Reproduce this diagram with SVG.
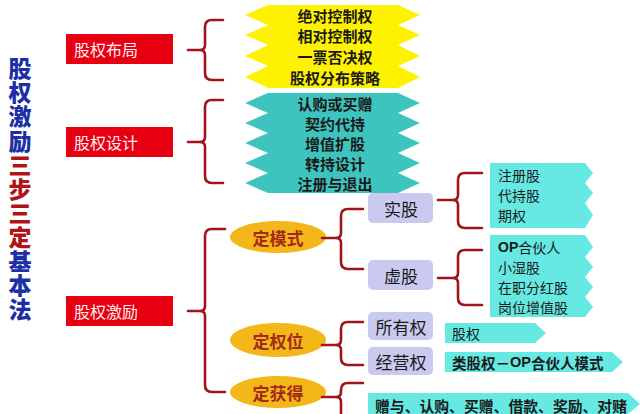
<svg xmlns="http://www.w3.org/2000/svg" width="640" height="414" viewBox="0 0 640 414">
<style>
.cjk{font-family:"Noto Sans CJK SC","Noto Sans",sans-serif}
.title{font-size:23px;font-weight:900}
.blue{fill:#1C2FA6}
.dred{fill:#B01318}
.redbox{fill:#E60012}
.redtxt{fill:#FFF0F0;font-size:16px;dominant-baseline:central}
.brace{fill:none;stroke:#A0141C;stroke-width:2.6;stroke-linecap:round;stroke-linejoin:round}
.yel{fill:#FFF200}
.teal{fill:#3EC4BE}
.lteal{fill:#66E9E3}
.rowtxt{font-size:15px;font-weight:700;fill:#1a1a1a;text-anchor:middle;dominant-baseline:central}
.ell{fill:#F3B71A}
.elltxt{font-size:17px;font-weight:700;fill:#A3291B;text-anchor:middle;dominant-baseline:central}
.lav{fill:#CACAF1}
.lavtxt{font-size:17px;fill:#1a1a1a;text-anchor:middle;dominant-baseline:central}
.listtxt{font-size:14px;fill:#1a1a1a;dominant-baseline:central}
.boldtxt{font-size:14.5px;font-weight:700;fill:#1a1a1a;dominant-baseline:central}
</style>
<rect width="640" height="414" fill="#FFFFFF"/>

<g id="title">
<text x="20" y="57" class="cjk title" writing-mode="vertical-rl" textLength="264" lengthAdjust="spacing"><tspan class="blue">股权激励</tspan><tspan class="dred">三步三定</tspan><tspan class="blue">基本法</tspan></text>
</g>

<g id="node-buju">
<rect x="66" y="34" width="107" height="30" class="redbox"/>
<text x="74" y="49" class="cjk redtxt">股权布局</text>
</g>
<g id="node-sheji">
<rect x="66" y="127" width="107" height="30" class="redbox"/>
<text x="74" y="142" class="cjk redtxt">股权设计</text>
</g>
<g id="node-jili">
<rect x="66" y="296" width="107" height="30" class="redbox"/>
<text x="74" y="311" class="cjk redtxt">股权激励</text>
</g>

<g id="node-buju-items">
<polygon class="yel" points="268,5 398,5 420,15 398,25 420,35 398,45 420,56 398,66 420,77 398,88 268,88 245,77 268,66 245,56 268,45 245,35 268,25 245,15"/>
<g class="cjk rowtxt">
<text x="335" y="15">绝对控制权</text>
<text x="335" y="35">相对控制权</text>
<text x="335" y="56">一票否决权</text>
<text x="335" y="77">股权分布策略</text>
</g>
</g>

<g id="node-sheji-items">
<polygon class="teal" points="268,93 398,93 420,103 398,113 420,123 398,133 420,143 398,153 420,163 398,173 420,183 398,193 268,193 245,183 268,173 245,163 268,153 245,143 268,133 245,123 268,113 245,103"/>
<g class="cjk rowtxt">
<text x="335" y="103">认购或买赠</text>
<text x="335" y="123">契约代持</text>
<text x="335" y="143">增值扩股</text>
<text x="335" y="163">转持设计</text>
<text x="335" y="183">注册与退出</text>
</g>
</g>

<g id="node-moshi">
<ellipse cx="278" cy="237" rx="48" ry="16" class="ell"/>
<text x="278" y="237" class="cjk elltxt">定模式</text>
</g>
<g id="node-quanwei">
<ellipse cx="278" cy="340" rx="48" ry="17" class="ell"/>
<text x="278" y="340" class="cjk elltxt">定权位</text>
</g>
<g id="node-huode">
<ellipse cx="278" cy="392" rx="48" ry="16" class="ell"/>
<text x="278" y="392" class="cjk elltxt">定获得</text>
</g>

<g id="node-shigu">
<rect x="368" y="193" width="65" height="30" rx="5" class="lav"/>
<text x="401" y="208" class="cjk lavtxt">实股</text>
</g>
<g id="node-xugu">
<rect x="368" y="260" width="65" height="30" rx="5" class="lav"/>
<text x="401" y="275" class="cjk lavtxt">虚股</text>
</g>
<g id="node-suoyou">
<rect x="368" y="312" width="65" height="28" rx="5" class="lav"/>
<text x="401" y="326" class="cjk lavtxt">所有权</text>
</g>
<g id="node-jingying">
<rect x="368" y="347" width="65" height="28" rx="5" class="lav"/>
<text x="401" y="361" class="cjk lavtxt">经营权</text>
</g>

<g id="node-shigu-items">
<polygon class="lteal" points="490,163 585,163 593,173 585,183 593,193 585,203 593,215 585,228 490,228"/>
<text x="498" y="175" class="cjk listtxt">注册股</text>
<text x="498" y="195" class="cjk listtxt">代持股</text>
<text x="498" y="215" class="cjk listtxt">期权</text>
</g>
<g id="node-xugu-items">
<polygon class="lteal" points="490,235 585,235 593,247 585,257 593,267 585,277 593,287 585,297 593,307 585,317 490,317"/>
<text x="498" y="247" class="cjk listtxt"><tspan font-family="'Liberation Sans',sans-serif" font-weight="700">OP</tspan>合伙人</text>
<text x="498" y="267" class="cjk listtxt">小湿股</text>
<text x="498" y="287" class="cjk listtxt">在职分红股</text>
<text x="498" y="307" class="cjk listtxt">岗位增值股</text>
</g>

<g id="node-guquan">
<polygon class="lteal" points="445,323 535,323 546,333 535,343 445,343"/>
<text x="452" y="333" class="cjk listtxt" font-size="15">股权</text>
</g>
<g id="node-leiguquan">
<polygon class="lteal" points="445,352 612,352 623,362 612,372 445,372"/>
<text x="452" y="362" class="cjk boldtxt">类股权－<tspan font-family="'Liberation Sans',sans-serif">OP</tspan>合伙人模式</text>
</g>
<g id="node-huode-items">
<polygon class="lteal" points="368,393 628,393 640,404 628,414 368,414"/>
<text x="375" y="405" class="cjk boldtxt" textLength="252" lengthAdjust="spacingAndGlyphs">赠与、认购、买赠、借款、奖励、对赌</text>
</g>

<g id="connectors" class="brace">
<path d="M223,20 H212 Q205,20 205,27 V45 Q205,50 200,50 Q205,50 205,55 V73 Q205,80 212,80 H223"/>
<path d="M188,50 H200"/>
<path d="M223,100 H212 Q205,100 205,107 V137 Q205,142 200,142 Q205,142 205,147 V176 Q205,183 212,183 H223"/>
<path d="M188,142 H200"/>
<path d="M225,229 H212 Q205,229 205,236 V306 Q205,311 200,311 Q205,311 205,316 V385 Q205,392 212,392 H225"/>
<path d="M188,311 H200"/>
<path d="M363,209 H348 Q341,209 341,216 V233 Q341,238 336,238 Q341,238 341,243 V262 Q341,269 348,269 H363"/>
<path d="M322,238 H336"/>
<path d="M482,173 H465 Q458,173 458,180 V195 Q458,200 453,200 Q458,200 458,205 V221 Q458,228 465,228 H482"/>
<path d="M438,200 H453"/>
<path d="M482,250 H465 Q458,250 458,257 V273 Q458,278 453,278 Q458,278 458,283 V298 Q458,305 465,305 H482"/>
<path d="M438,278 H453"/>
<path d="M363,322 H348 Q341,322 341,329 V340 Q341,345 336,345 Q341,345 341,350 V358 Q341,365 348,365 H363"/>
<path d="M322,345 H336"/>
<path d="M363,383 H348 Q341,383 341,390 V392 Q341,397 336,397 Q341,397 341,402 V420"/>
<path d="M322,397 H336"/>
</g>
</svg>
